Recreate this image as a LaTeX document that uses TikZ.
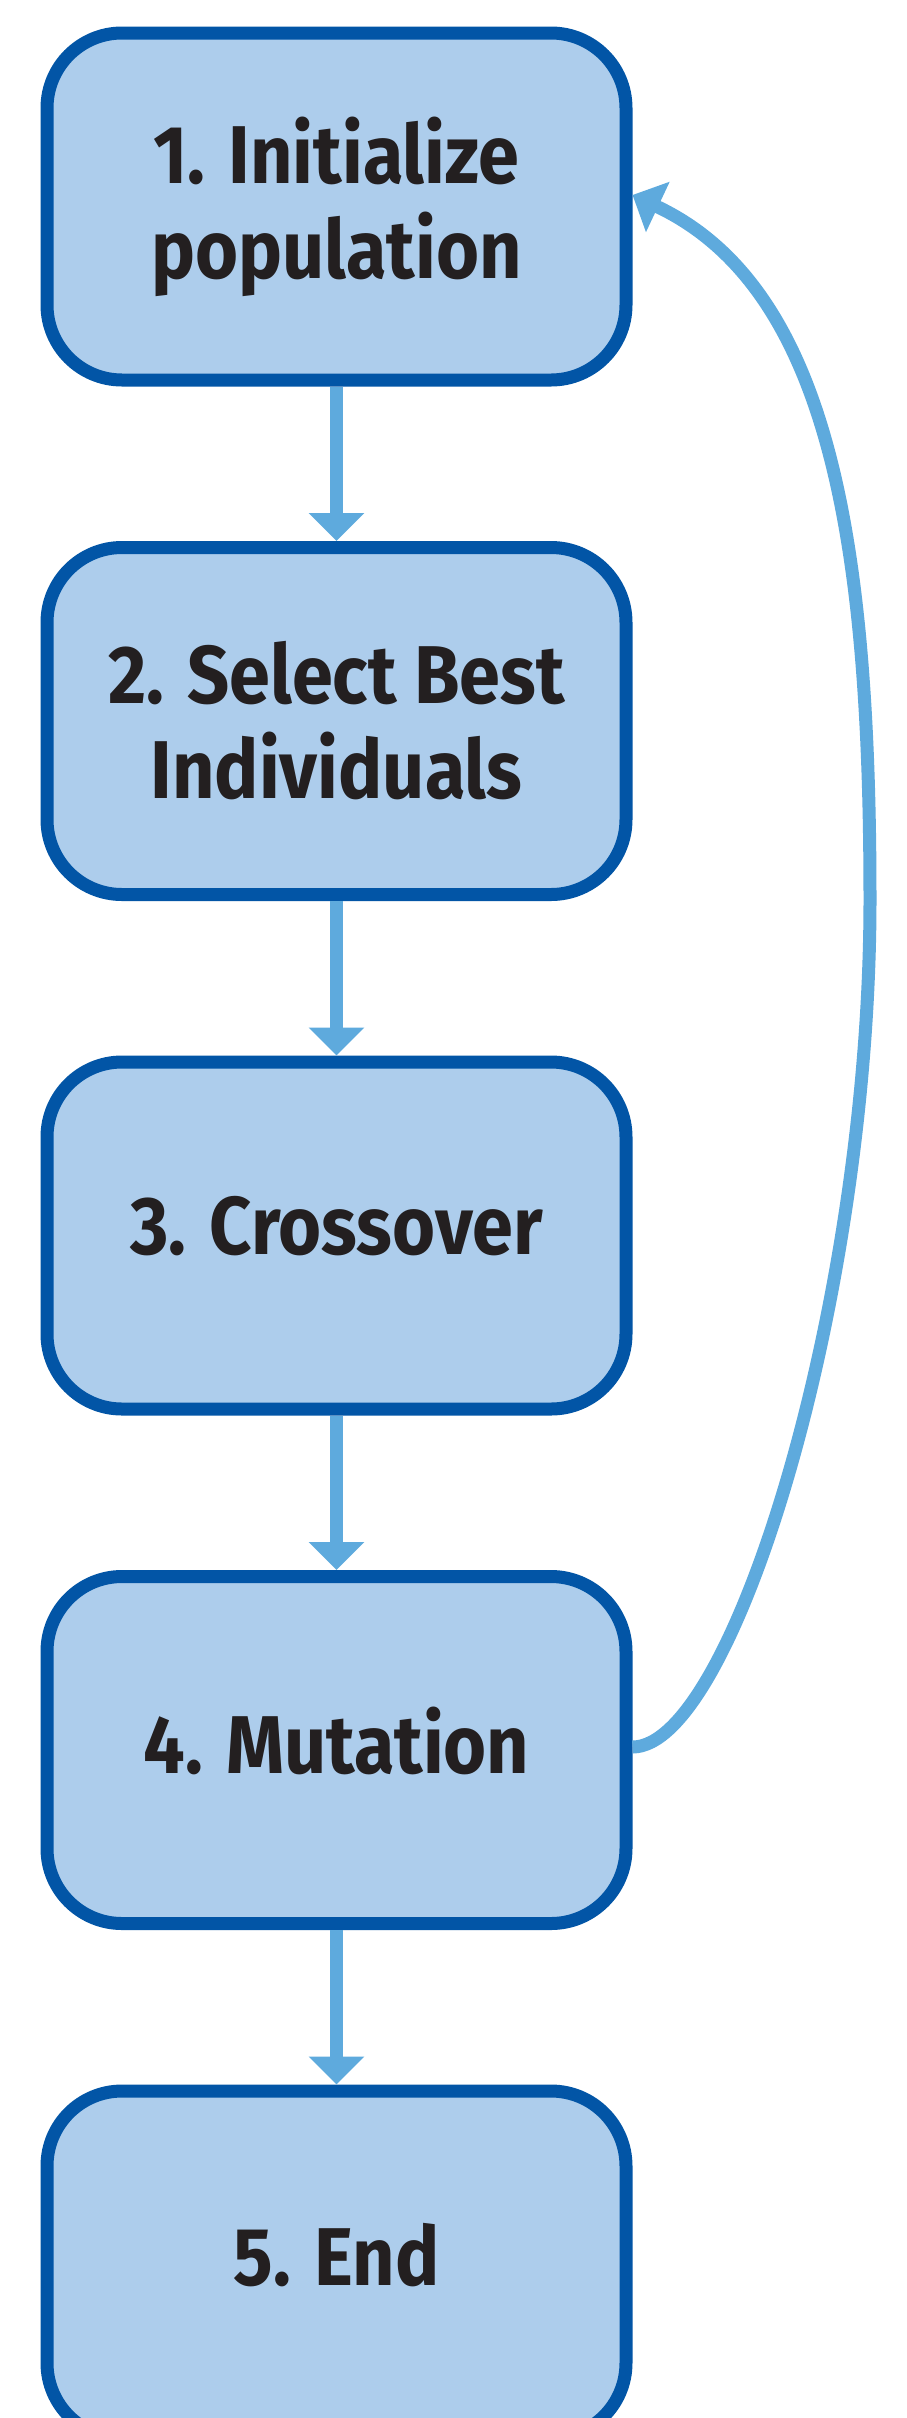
\documentclass[tikz,border=0pt]{standalone}
\usepackage{fontspec}
\setmainfont{Fira Sans}[FakeStretch=0.9]
\usetikzlibrary{arrows.meta}
\definecolor{boxfill}{RGB}{173,205,236}
\definecolor{boxline}{RGB}{2,85,166}
\definecolor{arrowcol}{RGB}{94,170,221}
\definecolor{txtcol}{RGB}{35,31,32}
\tikzset{
  stepbox/.style={draw=boxline, fill=boxfill, line width=13pt, rounded corners=75pt,
    minimum width=579pt, minimum height=347pt, inner sep=0pt, align=center,
    text=txtcol, font=\fontsize{82}{95}\selectfont\bfseries},
  flow/.style={draw=arrowcol, line width=13pt, -{Triangle[length=28pt,width=54pt]}}
}
\newcommand{\uptext}[1]{\raisebox{9pt}[\height][\depth]{#1}}
\begin{document}
\begin{tikzpicture}[x=1pt,y=-1pt]
\fill[white] (0,0) rectangle (906,2418);
\useasboundingbox (0,0) rectangle (906,2418);
\node[stepbox] (n1) at (336.5,206.5) {1. Initialize\\population};
\node[stepbox] (n2) at (336.5,721) {2. Select Best\\Individuals};
\node[stepbox] (n3) at (336.5,1235.5) {\uptext{3. Crossover}};
\node[stepbox] (n4) at (336.5,1750) {\uptext{4. Mutation}};
\node[stepbox] (n5) at (336.5,2264.5) {\uptext{5. End}};
\draw[flow] (n1.south) -- (n2.north);
\draw[flow] (n2.south) -- (n3.north);
\draw[flow] (n3.south) -- (n4.north);
\draw[flow] (n4.south) -- (n5.north);
\draw[flow] ([yshift=3pt]n4.east) .. controls +(100,0) and (870,1300) .. (870,900)
  .. controls (870,550) and (831.9,288.9) .. ([yshift=11.5pt]n1.east);
\end{tikzpicture}
\end{document}
